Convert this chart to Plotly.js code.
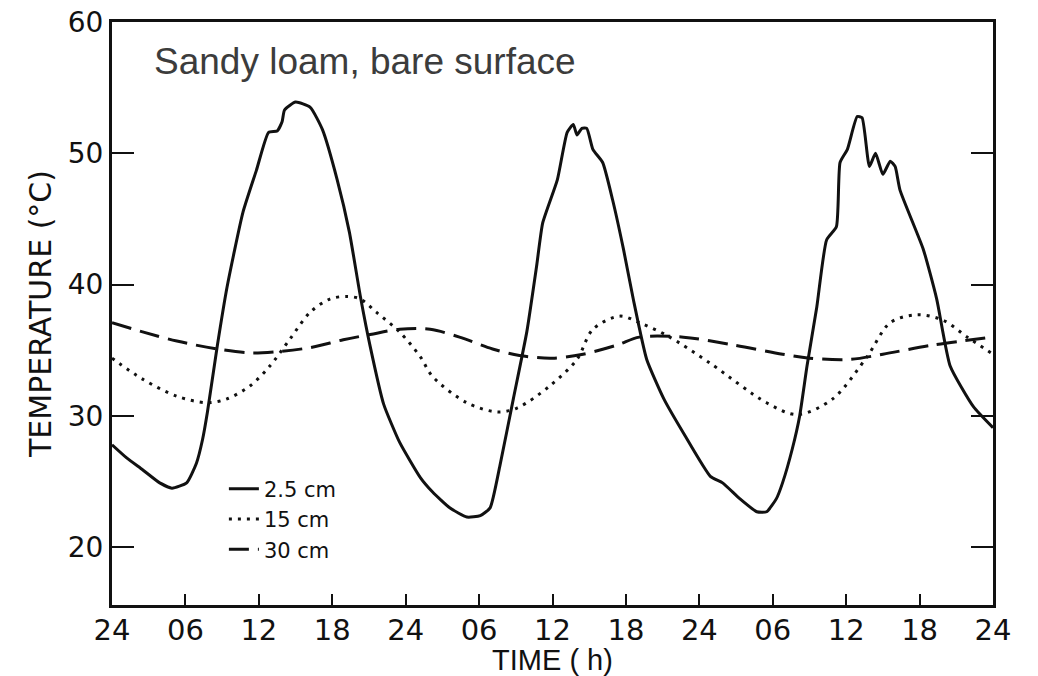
<!DOCTYPE html>
<html>
<head>
<meta charset="utf-8">
<script src="https://cdn.plot.ly/plotly-3.0.1.min.js"></script>
<style>
  html, body { margin: 0; padding: 0; background: #ffffff; }
  #chart { width: 1038px; height: 676px; }
</style>
</head>
<body>
<div id="chart"></div>
<script>
// Hours elapsed since the first midnight (x axis), temperatures in °C
const tickHours = [0, 6, 12, 18, 24, 30, 36, 42, 48, 54, 60, 66, 72];
const tickLabels = ["24", "06", "12", "18", "24", "06", "12", "18", "24", "06", "12", "18", "24"];

const hours25 = [0, 1.2, 2.5, 3.9, 4.9, 6.1, 6.9, 7.4, 7.8, 8.6, 9.4, 10.7, 11.8, 12.8, 13.5, 13.9, 14.1, 15.0, 16.2, 17.2, 18.4, 19.4, 20.3, 21.1, 22.2, 23.5, 25.2, 26.2, 27.6, 29.0, 30.1, 30.9, 31.7, 32.8, 33.9, 34.7, 35.2, 36.4, 37.2, 37.7, 38.0, 38.4, 38.8, 39.3, 40.1, 40.9, 41.8, 42.6, 43.7, 45.1, 46.7, 48.9, 49.9, 51.3, 52.7, 53.5, 54.3, 54.8, 55.6, 56.2, 56.8, 57.6, 58.4, 59.2, 59.5, 60.1, 60.9, 61.3, 61.9, 62.4, 63.0, 63.6, 64.0, 64.4, 66.3, 67.4, 68.5, 70.4, 72];
const temp25 = [27.8, 26.8, 25.9, 24.9, 24.5, 24.9, 26.4, 28.2, 30.3, 35.3, 39.8, 45.5, 48.7, 51.6, 51.7, 52.4, 53.3, 53.9, 53.5, 51.8, 48.0, 44.0, 39.1, 35.3, 30.9, 28.0, 25.3, 24.2, 23.0, 22.3, 22.4, 23.0, 26.2, 31.3, 36.4, 41.4, 44.7, 48.0, 51.6, 52.2, 51.4, 51.9, 51.9, 50.3, 49.3, 46.5, 42.7, 38.9, 34.3, 31.3, 28.7, 25.4, 24.9, 23.7, 22.7, 22.7, 23.7, 24.9, 27.5, 30.0, 33.8, 38.3, 43.4, 44.4, 49.3, 50.3, 52.8, 52.7, 49.0, 50.0, 48.4, 49.4, 49.0, 47.2, 42.7, 38.9, 33.8, 30.7, 29.1];

const hours15 = [0, 2.5, 5.3, 7.8, 9.4, 11.3, 12.9, 14.5, 16.2, 17.8, 19.2, 20.3, 21.6, 23.5, 25.2, 26.2, 29.0, 31.5, 33.1, 35.8, 38.0, 39.3, 41.5, 43.1, 45.4, 48.9, 53.5, 56.0, 58.9, 61.7, 63.6, 65.8, 67.9, 69.9, 72];
const temp15 = [34.4, 32.8, 31.5, 31.0, 31.3, 32.3, 33.8, 35.8, 37.9, 38.9, 39.1, 38.9, 37.9, 36.4, 34.5, 33.0, 31.0, 30.3, 30.6, 32.3, 34.3, 36.6, 37.6, 37.1, 36.1, 34.0, 31.0, 30.1, 31.3, 34.5, 37.1, 37.7, 37.3, 36.0, 34.7];

const hours30 = [0, 2.5, 5.3, 8.6, 11.3, 13.5, 16.2, 18.9, 21.1, 23.5, 26.0, 28.4, 31.1, 33.3, 36.0, 38.5, 41.3, 43.1, 46.7, 50.8, 54.8, 57.0, 60.3, 63.0, 67.1, 72];
const temp30 = [37.1, 36.4, 35.7, 35.1, 34.8, 34.9, 35.2, 35.8, 36.2, 36.6, 36.6, 36.0, 35.1, 34.6, 34.4, 34.7, 35.4, 36.0, 36.0, 35.4, 34.7, 34.4, 34.3, 34.7, 35.4, 36.0];

const seriesNames = ["2.5 cm", "15 cm", "30 cm"];
const majorTickHours = [0, 12, 24, 36, 48, 60, 72];
const topTickHours = [12, 24, 36, 48, 60];
const yTickValues = [20, 30, 40, 50, 60];

const traces = [
  {x: hours25, y: temp25, name: seriesNames[0], type: "scatter", mode: "lines",
   line: {color: "#111111", width: 3, dash: "solid", shape: "spline", smoothing: 0.5}},
  {x: hours15, y: temp15, name: seriesNames[1], type: "scatter", mode: "lines",
   line: {color: "#111111", width: 3, dash: "3px,6px", shape: "spline", smoothing: 0.9}},
  {x: hours30, y: temp30, name: seriesNames[2], type: "scatter", mode: "lines",
   line: {color: "#111111", width: 3, dash: "20px,9px", shape: "spline", smoothing: 0.9}}
];

const layout = {
  width: 1038, height: 676,
  margin: {l: 112, r: 45, t: 22, b: 71, pad: 0},
  paper_bgcolor: "#ffffff", plot_bgcolor: "#ffffff",
  showlegend: true,
  legend: {
    x: 0.127, y: 0.234, xanchor: "left", yanchor: "top",
    bgcolor: "rgba(0,0,0,0)", borderwidth: 0,
    font: {family: "DejaVu Sans", size: 21, color: "#111111"},
    tracegroupgap: 0
  },
  xaxis: {
    range: [0, 72], tickmode: "array", tickvals: tickHours, ticktext: tickLabels,
    ticks: "inside", ticklen: 11, tickwidth: 2, tickcolor: "#111111",
    showline: true, linewidth: 3, linecolor: "#111111", mirror: true,
    showgrid: false, zeroline: false,
    tickfont: {family: "DejaVu Sans", size: 29, color: "#111111"},
    ticklabelstandoff: -3,
    title: {text: "TIME ( h)", font: {family: "Liberation Sans", size: 29, color: "#111111"}, standoff: 9},
    automargin: false
  },
  xaxis2: {
    range: [0, 72], overlaying: "x", anchor: "y", side: "bottom",
    tickmode: "array", tickvals: majorTickHours, ticks: "inside", ticklen: 20, tickwidth: 2,
    tickcolor: "#111111", showticklabels: false, showline: false, showgrid: false, zeroline: false
  },
  xaxis3: {
    range: [0, 72], overlaying: "x", anchor: "y", side: "top",
    tickmode: "array", tickvals: topTickHours, ticks: "inside", ticklen: 18, tickwidth: 2,
    tickcolor: "#111111", showticklabels: false, showline: false, showgrid: false, zeroline: false
  },
  yaxis: {
    range: [15.6, 60], tickmode: "array", tickvals: yTickValues,
    ticks: "inside", ticklen: 22, tickwidth: 2, tickcolor: "#111111",
    showline: true, linewidth: 3, linecolor: "#111111", mirror: "ticks",
    showgrid: false, zeroline: false,
    tickfont: {family: "DejaVu Sans", size: 28, color: "#111111"},
    title: {text: "TEMPERATURE (°C)", font: {family: "DejaVu Sans", size: 30, color: "#111111"}, standoff: 8},
    automargin: false
  },
  annotations: [{
    text: "Sandy loam, bare surface", xref: "paper", yref: "paper",
    x: 0.045, y: 0.933, xanchor: "left", yanchor: "middle", showarrow: false,
    font: {family: "Liberation Sans", size: 37, color: "#3c3c3c"}
  }]
};

Plotly.newPlot("chart", traces, layout, {displayModeBar: false, staticPlot: true});
</script>
</body>
</html>
